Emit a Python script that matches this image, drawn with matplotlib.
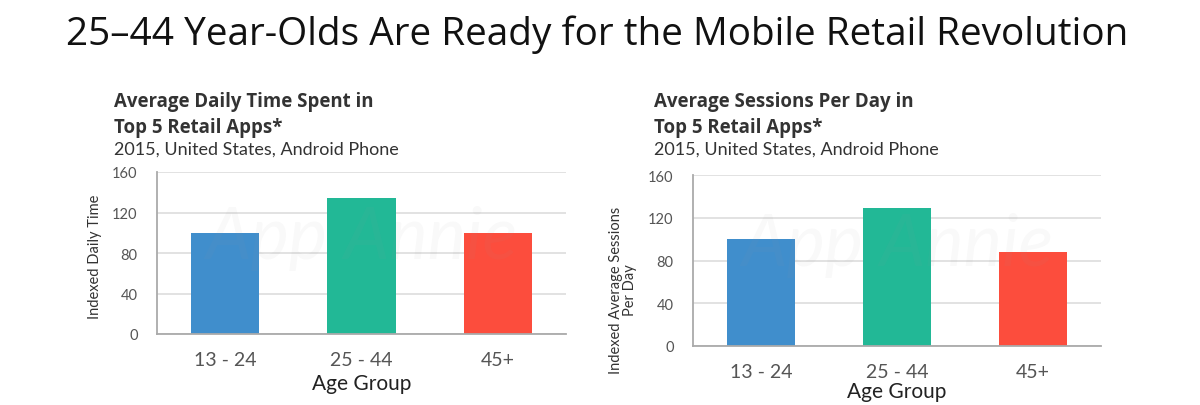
import matplotlib
matplotlib.use("Agg")
import matplotlib.pyplot as plt

plt.rcParams["font.family"] = ["Lato", "DejaVu Sans"]

categories = ["13 - 24", "25 - 44", "45+"]
daily_time = [100, 134, 100]
sessions_per_day = [100, 129, 88]
yticks = [0, 40, 80, 120, 160]
bar_colors = ["#408ECC", "#22B896", "#FC4D3D"]

W, H = 1200, 406
fig = plt.figure(figsize=(W / 100, H / 100), dpi=100)
renderer = fig.canvas.get_renderer()


def px(x, y):
    return x / W, 1 - y / H


def fit_text(t, width_px):
    # scale font so the string spans the same width as in the original slide
    w = t.get_window_extent(renderer=renderer).width
    t.set_fontsize(t.get_fontsize() * width_px / w)
    return t


def draw_panel(rect, values, group_pad):
    ax = fig.add_axes(rect)
    ax.bar(range(len(categories)), values, width=0.5, color=bar_colors, zorder=2)
    ax.set_xlim(-0.5, 2.5)
    ax.set_ylim(0, 160)
    ax.set_yticks(yticks)
    ax.set_xticks(range(len(categories)))
    ax.set_xticklabels(categories, fontsize=14, color="#555555")
    ax.tick_params(axis="y", labelsize=10.5, colors="#555555", length=0, pad=14)
    ax.tick_params(axis="x", length=0, pad=12)
    ax.grid(axis="y", color="#dddddd", lw=1.2, zorder=0)
    for s in ("top", "right"):
        ax.spines[s].set_visible(False)
    for s in ("left", "bottom"):
        ax.spines[s].set_color("#aaaaaa")
        ax.spines[s].set_linewidth(1.3)
    ax.set_xlabel("Age Group", fontsize=15, color="#222222", labelpad=group_pad)
    ax.text(1.0, 95, "App Annie", fontsize=52, style="italic", color="#999999",
            alpha=0.06, ha="center", va="center", zorder=3)
    return ax


# left panel
axl = draw_panel([157 / W, 1 - 335 / H, 409 / W, 162 / H], daily_time, 4)
fig.text(*px(95, 257), "Indexed Daily Time", rotation=90, ha="center",
         va="center", fontsize=10.5, color="#333333")

# right panel
axr = draw_panel([693 / W, 1 - 347 / H, 408 / W, 171 / H], sessions_per_day, 1)
fig.text(*px(623, 290), "Indexed Average Sessions\nPer Day", rotation=90,
         ha="center", va="center", fontsize=10.5, color="#333333",
         linespacing=1.0)

# headings
for x0, line1, w1 in [(114, "Average Daily Time Spent in", 259),
                      (654, "Average Sessions Per Day in", 260)]:
    fit_text(fig.text(*px(x0, 107), line1, fontsize=12.5, fontweight="bold",
                      family=["Open Sans", "DejaVu Sans"], color="#333333",
                      va="baseline"), w1)
    fit_text(fig.text(*px(x0, 133), "Top 5 Retail Apps*", fontsize=12.5,
                      fontweight="bold", family=["Open Sans", "DejaVu Sans"],
                      color="#333333", va="baseline"), 168)
    fit_text(fig.text(*px(x0, 155), "2015, United States, Android Phone",
                      fontsize=12, color="#333333", va="baseline"), 285)

fit_text(fig.text(*px(597, 45),
                  "25\u201344 Year-Olds Are Ready for the Mobile Retail Revolution",
                  fontsize=22, ha="center", va="baseline", color="#111111",
                  family=["Open Sans", "DejaVu Sans"]), 1063)

fig.savefig("out.png", dpi=100)
